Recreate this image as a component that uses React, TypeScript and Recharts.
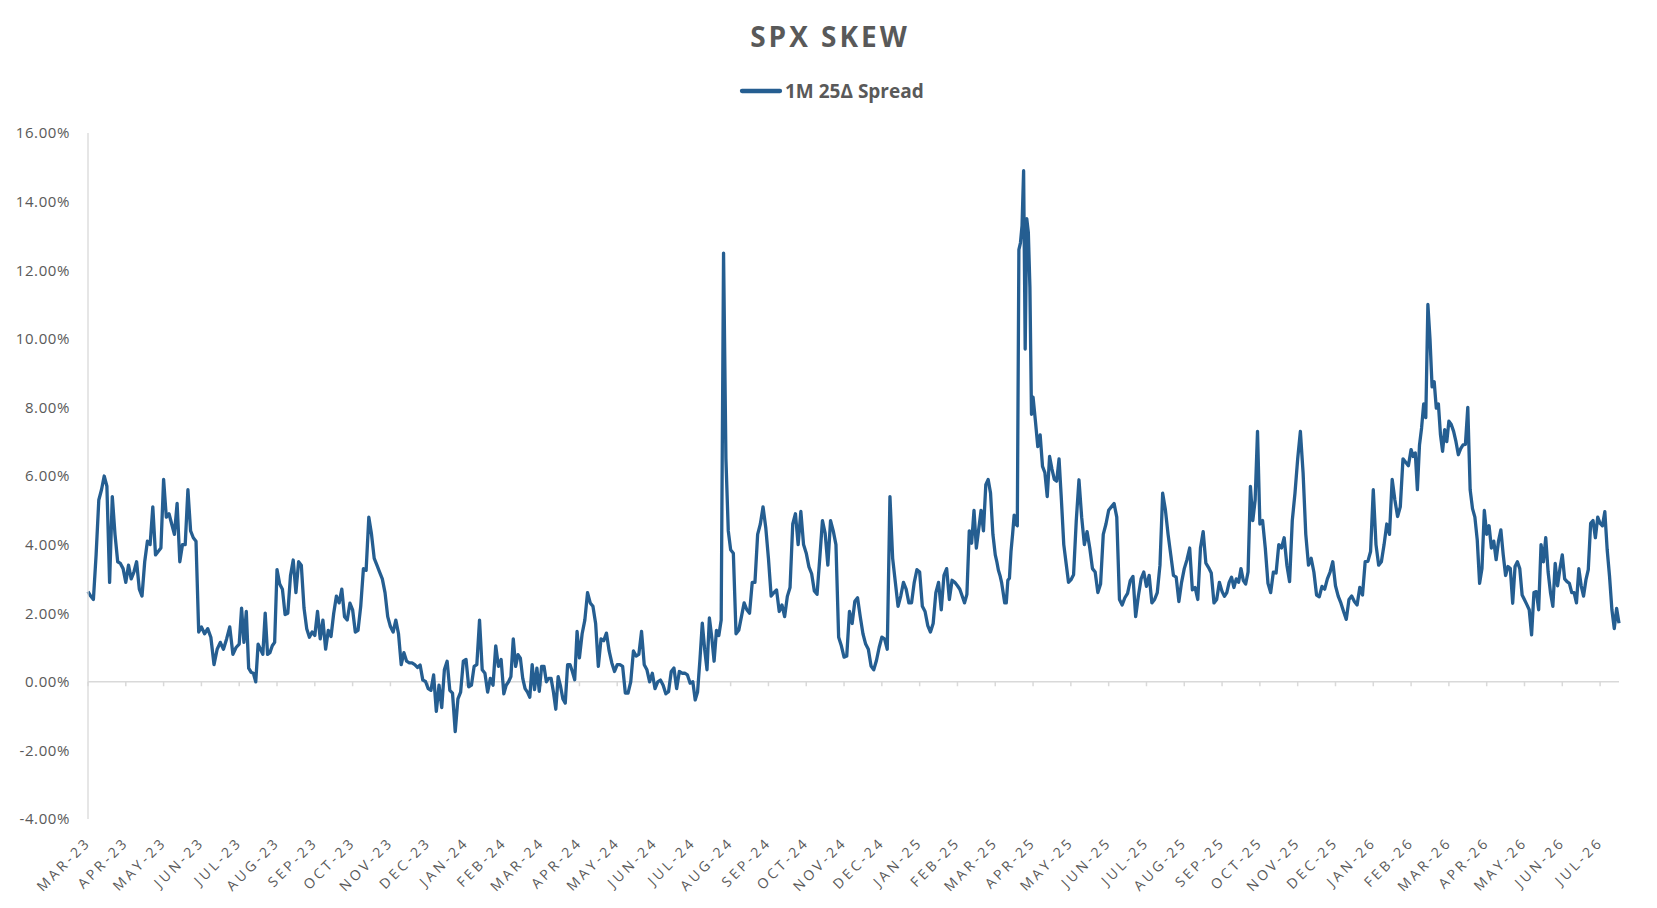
import { Line, LineChart, ReferenceLine, XAxis, YAxis } from 'recharts';

const MONTHS = [
  'MAR-23', 'APR-23', 'MAY-23', 'JUN-23', 'JUL-23', 'AUG-23', 'SEP-23', 'OCT-23', 'NOV-23', 'DEC-23',
  'JAN-24', 'FEB-24', 'MAR-24', 'APR-24', 'MAY-24', 'JUN-24', 'JUL-24', 'AUG-24', 'SEP-24', 'OCT-24', 'NOV-24', 'DEC-24',
  'JAN-25', 'FEB-25', 'MAR-25', 'APR-25', 'MAY-25', 'JUN-25', 'JUL-25', 'AUG-25', 'SEP-25', 'OCT-25', 'NOV-25', 'DEC-25',
  'JAN-26', 'FEB-26', 'MAR-26', 'APR-26', 'MAY-26', 'JUN-26', 'JUL-26',
];

// one inner list per month, values in %, spread evenly over the month
const SPREAD_2023 = [
  [2.63, 2.5, 2.4, 3.7, 5.3, 5.6, 6.0, 5.7, 2.9, 5.4, 4.3, 3.5, 3.45, 3.3],
  [2.9, 3.4, 3.0, 3.2, 3.5, 2.7, 2.5, 3.5, 4.1, 4.0, 5.1, 3.7, 3.8, 3.9],
  [5.9, 4.8, 4.9, 4.6, 4.3, 5.2, 3.5, 4.0, 4.0, 5.6, 4.4, 4.2, 4.1, 1.45],
  [1.6, 1.4, 1.55, 1.3, 0.5, 0.95, 1.15, 0.95, 1.25, 1.6, 0.8, 1.0],
  [1.1, 2.15, 1.15, 2.05, 0.4, 0.28, 0.25, 0.0, 1.1, 0.95, 0.8, 2.0, 0.8, 0.85, 1.05, 1.15],
  [3.27, 2.85, 2.7, 1.96, 2.0, 3.1, 3.55, 2.6, 3.5, 3.4, 2.15, 1.55, 1.3, 1.45],
  [1.35, 2.05, 1.25, 1.8, 0.95, 1.5, 1.32, 2.0, 2.5, 2.3, 2.7, 1.9, 1.8, 2.29],
  [2.1, 1.45, 1.5, 2.2, 3.3, 3.25, 4.8, 4.3, 3.6, 3.4, 3.2, 3.0, 2.6, 1.9],
  [1.61, 1.45, 1.8, 1.4, 0.5, 0.85, 0.6, 0.55, 0.55, 0.5, 0.42, 0.49, 0.05, 0.01],
  [-0.2, -0.25, 0.2, -0.86, -0.1, -0.75, 0.36, 0.6, -0.25, -0.33, -1.45, -0.5, -0.3, 0.6],
];

const SPREAD_2024 = [
  [0.65, -0.15, -0.1, 0.45, 0.5, 1.8, 0.35, 0.25, -0.3, 0.1, -0.1, 1.05, 0.45, 0.65],
  [-0.35, -0.1, 0.0, 0.15, 1.25, 0.45, 0.79, 0.69, 0.1, -0.2, -0.3, -0.45, 0.5, -0.23, 0.4, -0.28],
  [0.45, 0.45, 0.0, 0.1, 0.1, -0.3, -0.8, 0.15, -0.13, -0.5, -0.62, 0.5, 0.5, 0.3, 0.06, 1.47],
  [0.7, 1.4, 1.8, 2.6, 2.3, 2.2, 1.7, 0.45, 1.25, 1.2, 1.42, 0.9, 0.55, 0.3],
  [0.5, 0.5, 0.45, -0.33, -0.33, 0.0, 0.9, 0.75, 0.8, 1.47, 0.5, 0.35, 0.0, 0.25],
  [-0.2, 0.0, 0.05, -0.1, -0.35, -0.29, 0.3, 0.4, -0.2, 0.3, 0.25, 0.25, 0.2, -0.04],
  [0.0, -0.53, -0.3, 0.64, 1.71, 0.95, 0.35, 1.86, 1.3, 0.6, 1.5, 1.35, 1.8, 12.5, 6.5, 4.4],
  [3.85, 3.75, 1.4, 1.5, 1.9, 2.3, 2.1, 2.0, 2.9, 2.9, 4.3, 4.6, 5.1, 4.5],
  [3.6, 2.5, 2.6, 2.68, 2.05, 2.24, 1.9, 2.49, 2.75, 4.6, 4.9, 4.0, 4.97, 4.0],
  [3.75, 3.35, 3.15, 2.65, 2.55, 3.6, 4.7, 4.33, 3.4, 4.7, 4.4, 4.0, 1.3, 1.05],
  [0.72, 0.75, 2.05, 1.7, 2.35, 2.45, 1.9, 1.4, 1.1, 0.95, 0.46, 0.35, 0.62, 1.0],
  [1.3, 1.25, 0.95, 5.4, 3.6, 2.9, 2.2, 2.5, 2.9, 2.7, 2.3, 2.3, 2.9, 3.27],
];

const SPREAD_2025 = [
  [3.2, 2.2, 2.05, 1.64, 1.45, 1.7, 2.6, 2.9, 2.1, 3.1, 3.3, 2.4, 2.96, 2.9],
  [2.8, 2.7, 2.5, 2.3, 2.55, 4.4, 4.04, 5.0, 3.9, 4.45, 5.0, 4.4, 5.75, 5.9, 5.5, 4.3],
  [3.7, 3.5, 3.25, 3.1, 2.9, 2.6, 2.3, 2.3, 2.96, 3.02, 3.8, 4.3, 4.86, 4.6, 4.55, 12.6, 12.8, 13.3, 14.9, 9.7, 13.5, 13.1, 11.5, 7.8],
  [8.3, 7.6, 6.86, 7.2, 6.28, 6.1, 5.4, 6.57, 6.2, 5.9, 5.85, 6.5, 5.3, 4.0, 3.45, 2.9],
  [2.97, 3.12, 4.7, 5.89, 4.8, 4.0, 4.38, 3.9, 3.3, 3.2, 2.6, 2.85, 4.3, 4.6],
  [5.0, 5.1, 5.2, 4.8, 2.4, 2.24, 2.45, 2.58, 2.95, 3.07, 1.9, 2.5, 3.0, 3.2],
  [2.78, 3.1, 2.3, 2.4, 2.6, 3.4, 5.5, 5.02, 4.3, 3.7, 3.1, 3.05, 2.34, 2.9],
  [3.3, 3.56, 3.9, 2.68, 2.75, 2.4, 3.9, 4.38, 3.46, 3.33, 3.17, 2.3, 2.4, 2.9],
  [2.63, 2.49, 2.6, 2.9, 3.05, 2.75, 3.0, 2.9, 3.3, 2.95, 2.85, 3.2, 5.7, 4.7, 5.3, 7.3],
  [4.6, 4.7, 3.9, 2.87, 2.6, 3.2, 3.17, 4.0, 3.9, 4.2, 3.4, 2.92, 4.7, 5.5],
  [6.5, 7.3, 6.1, 4.3, 3.4, 3.6, 3.2, 2.53, 2.48, 2.78, 2.7, 3.0, 3.2, 3.5],
  [2.8, 2.5, 2.3, 2.05, 1.82, 2.4, 2.5, 2.34, 2.24, 2.75, 2.53, 3.5, 3.51, 3.8],
];

const SPREAD_2026 = [
  [5.6, 4.0, 3.4, 3.5, 4.0, 4.6, 4.3, 5.9, 5.3, 4.82, 5.1, 6.5, 6.4, 6.3],
  [6.77, 6.57, 6.67, 5.6, 6.9, 7.4, 8.1, 7.7, 11.0, 10.0, 8.6, 8.75, 7.98, 8.1, 7.2, 6.72, 7.35, 7.0],
  [7.6, 7.5, 7.3, 7.0, 6.62, 6.8, 6.91, 6.92, 8.0, 5.6, 5.05, 4.8, 4.14, 2.87, 3.3, 5.0],
  [4.3, 4.55, 3.9, 4.1, 3.56, 4.1, 4.43, 3.7, 3.1, 3.36, 3.3, 2.29, 3.36, 3.5, 3.3, 2.53],
  [2.39, 2.25, 2.1, 1.37, 2.6, 2.63, 2.1, 4.0, 3.5, 4.2, 3.2, 2.6, 2.2, 3.45, 2.8, 3.3],
  [3.7, 3.0, 2.92, 2.87, 2.6, 2.6, 2.3, 3.3, 2.8, 2.5, 2.97, 3.27, 4.62, 4.7, 4.2, 4.8],
  [4.62, 4.55, 4.96, 3.85, 3.07, 2.1, 1.55, 2.14, 1.71],
];

const Y_TICKS = [-4, -2, 0, 2, 4, 6, 8, 10, 12, 14, 16];
// the last month is only partly filled
const LAST_MONTH_SLOTS = 16;

const allMonths = [...SPREAD_2023, ...SPREAD_2024, ...SPREAD_2025, ...SPREAD_2026];
const data = allMonths.flatMap((vals, i) => {
  const slots = i === allMonths.length - 1 ? LAST_MONTH_SLOTS : vals.length;
  return vals.map((v, j) => ({ t: i + j / slots, spread: v }));
});
const lastT = data[data.length - 1].t;

const GREY = '#595959';
const AXIS = '#d9d9d9';
const BLUE = '#255e91';
const FONT = '"Open Sans", sans-serif';

const MonthTick = (props: any) => {
  const { x, y, payload } = props;
  const tx = x + 4;
  const ty = y + 24;
  return (
    <text
      x={tx}
      y={ty}
      transform={`rotate(-45 ${tx} ${ty})`}
      textAnchor="end"
      fill={GREY}
      fontSize={14}
      letterSpacing={3.2}
      fontFamily={FONT}
    >
      {MONTHS[payload.value]}
    </text>
  );
};

export default function App() {
  return (
    <div style={{ position: 'relative', width: 1657, height: 908, background: '#fff' }}>
      <style>{'html,body{margin:0;padding:0;overflow:hidden;background:#fff}'}</style>
      <LineChart
        width={1657}
        height={908}
        data={data}
        margin={{ top: 133, right: 38, bottom: 9, left: 8 }}
      >
        <XAxis
          type="number"
          dataKey="t"
          domain={[0, lastT]}
          ticks={MONTHS.map((_, i) => i)}
          interval={0}
          axisLine={false}
          tickLine={false}
          tickSize={0}
          tickMargin={0}
          height={80}
          tick={(p: any) => <MonthTick {...p} />}
        />
        <YAxis
          type="number"
          domain={[-4, 16]}
          ticks={Y_TICKS}
          interval={0}
          width={80}
          tickSize={0}
          tickMargin={18}
          tickLine={false}
          axisLine={{ stroke: AXIS, strokeWidth: 1.3 }}
          tick={{ fill: GREY, fontSize: 15, fontFamily: FONT, letterSpacing: 0.6 }}
          tickFormatter={(v: number) => `${v.toFixed(2)}%`}
        />
        <ReferenceLine y={0} stroke={AXIS} strokeWidth={1.5} />
        {MONTHS.map((m, i) => (
          <ReferenceLine
            key={m}
            segment={[{ x: i, y: 0 }, { x: i, y: -0.13 }]}
            stroke={AXIS}
            strokeWidth={1.5}
          />
        ))}
        <Line
          type="linear"
          dataKey="spread"
          name="1M 25Δ Spread"
          stroke={BLUE}
          strokeWidth={3.3}
          strokeLinejoin="round"
          dot={false}
          activeDot={false}
          isAnimationActive={false}
        />
      </LineChart>
      <svg
        width={1657}
        height={120}
        style={{ position: 'absolute', left: 0, top: 0, pointerEvents: 'none' }}
      >
        <text x={830} y={47} textAnchor="middle" fill={GREY} fontSize={28} fontWeight={700} letterSpacing={3} fontFamily={FONT}>
          SPX SKEW
        </text>
        <line x1={742} y1={91} x2={780} y2={91} stroke={BLUE} strokeWidth={4.3} strokeLinecap="round" />
        <text x={785} y={98} fill={GREY} fontSize={19} fontWeight={700} fontFamily={FONT}>
          1M 25Δ Spread
        </text>
      </svg>
    </div>
  );
}
